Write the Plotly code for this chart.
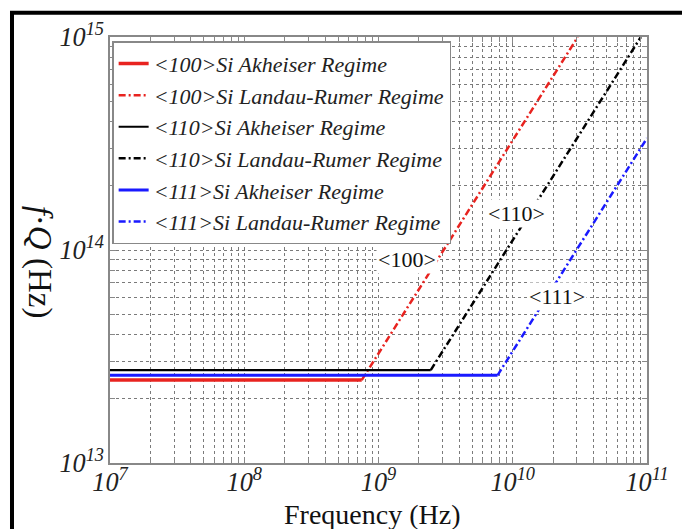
import math
import plotly.graph_objects as go

# ---- data ----
freq_akh_100 = [1e7, 7.5e8]
qf_akh_100 = [2.45e13, 2.45e13]
freq_lr_100 = [7.5e8, 3.05e10]
qf_lr_100 = [2.45e13, 1.0e15]

freq_akh_110 = [1e7, 2.45e9]
qf_akh_110 = [2.73e13, 2.73e13]
freq_lr_110 = [2.45e9, 9.0e10]
qf_lr_110 = [2.73e13, 1.0e15]

freq_akh_111 = [1e7, 7.7e9]
qf_akh_111 = [2.58e13, 2.58e13]
freq_lr_111 = [7.7e9, 1e11]
qf_lr_111 = [2.58e13, 3.35e14]

labels = ["&lt;100&gt;", "&lt;110&gt;", "&lt;111&gt;"]
label_x = [1.64e9, 1.07e10, 2.13e10]
label_y = [8.98e13, 1.49e14, 6.08e13]

RED = "#e8231f"
BLACK = "#000000"
BLUE = "#1a1aff"
DASHDOT = "7px,3px,2px,3px"
FONT = "Liberation Serif, Times New Roman, serif"

fig = go.Figure()
series = [
    ("&lt;100&gt;Si Akheiser Regime", freq_akh_100, qf_akh_100, RED, "solid", 3.5),
    ("&lt;100&gt;Si Landau-Rumer Regime", freq_lr_100, qf_lr_100, RED, DASHDOT, 2.5),
    ("&lt;110&gt;Si Akheiser Regime", freq_akh_110, qf_akh_110, BLACK, "solid", 2.2),
    ("&lt;110&gt;Si Landau-Rumer Regime", freq_lr_110, qf_lr_110, BLACK, DASHDOT, 2.5),
    ("&lt;111&gt;Si Akheiser Regime", freq_akh_111, qf_akh_111, BLUE, "solid", 3),
    ("&lt;111&gt;Si Landau-Rumer Regime", freq_lr_111, qf_lr_111, BLUE, DASHDOT, 2.5),
]
for name, x, y, c, d, w in series:
    fig.add_trace(go.Scatter(x=x, y=y, mode="lines", name=name,
                             line=dict(color=c, dash=d, width=w)))

for t, x, y in zip(labels, label_x, label_y):
    fig.add_annotation(x=math.log10(x), y=math.log10(y),
                       xref="x", yref="y", text=t, showarrow=False,
                       bgcolor="white", borderpad=1,
                       font=dict(family=FONT, size=22, color="#111"))

axis_common = dict(
    type="log", dtick=1, exponentformat="power",
    showline=True, linecolor="#888", linewidth=1.5, mirror="allticks",
    ticks="inside", ticklen=6, tickcolor="#888",
    showgrid=True, gridcolor="#7a7a7a", griddash="dot", gridwidth=1,
    tickfont=dict(family=FONT, size=21, color="#222", style="italic"),
    minor=dict(dtick="D1", ticks="inside", ticklen=5, tickcolor="#888",
               showgrid=True, gridcolor="#7a7a7a", griddash="dot", gridwidth=1),
    zeroline=False,
)
fig.update_xaxes(range=[7, 11], ticklabelstandoff=-4, **axis_common)
fig.update_yaxes(range=[13, 15], **axis_common)

# axis titles
fig.add_annotation(xref="paper", yref="paper", x=0.488, y=-0.12,
                   xanchor="center", yanchor="middle", showarrow=False,
                   text="Frequency (Hz)",
                   font=dict(family=FONT, size=28, color="#111"))
fig.add_annotation(xref="paper", yref="paper", x=-0.131, y=0.471,
                   xanchor="center", yanchor="middle", showarrow=False,
                   textangle=90, text="<i>f</i>·<i>Q</i> (Hz)",
                   font=dict(family=FONT, size=33, color="#111"))

# outer black frame
fig.add_shape(type="rect", xref="paper", yref="paper",
              x0=-0.1825, y0=-0.4, x1=1.3, y1=1.057,
              line=dict(color="black", width=4), layer="above")

fig.update_layout(
    width=682, height=521,
    margin=dict(l=102, r=43, t=29, b=66),
    paper_bgcolor="white", plot_bgcolor="white",
    legend=dict(x=0.004, y=0.99, xanchor="left", yanchor="top",
                bgcolor="white", bordercolor="#888", borderwidth=1.5,
                font=dict(family=FONT, size=22, color="#222", style="italic"),
                tracegroupgap=0, itemwidth=30),
    showlegend=True,
)

fig.write_html("out.html")
